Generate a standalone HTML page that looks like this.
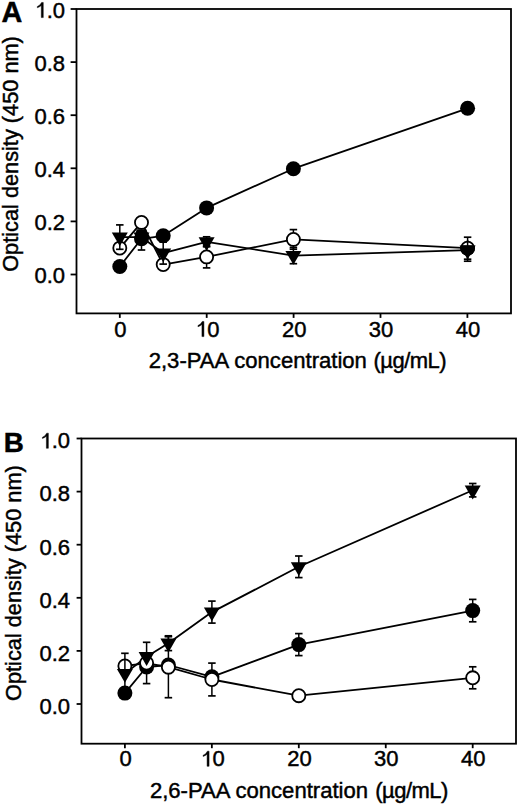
<!DOCTYPE html>
<html><head><meta charset="utf-8"><style>
html,body{margin:0;padding:0;background:#fff;width:520px;height:804px;overflow:hidden}
svg{display:block}
text{font-family:"Liberation Sans",sans-serif;font-size:22px;fill:#000;stroke:#000;stroke-width:0.45px}
</style></head><body>
<svg width="520" height="804" viewBox="0 0 520 804">
<rect width="520" height="804" fill="#fff"/>
<rect x="76.5" y="9" width="434.5" height="304.4" fill="none" stroke="#000" stroke-width="1.8"/><line x1="70.6" y1="274.5" x2="76.5" y2="274.5" stroke="#000" stroke-width="1.8"/><text x="65" y="283.1" text-anchor="end">0.0</text><line x1="70.6" y1="221.4" x2="76.5" y2="221.4" stroke="#000" stroke-width="1.8"/><text x="65" y="230" text-anchor="end">0.2</text><line x1="70.6" y1="168.3" x2="76.5" y2="168.3" stroke="#000" stroke-width="1.8"/><text x="65" y="176.9" text-anchor="end">0.4</text><line x1="70.6" y1="115.2" x2="76.5" y2="115.2" stroke="#000" stroke-width="1.8"/><text x="65" y="123.8" text-anchor="end">0.6</text><line x1="70.6" y1="62.1" x2="76.5" y2="62.1" stroke="#000" stroke-width="1.8"/><text x="65" y="70.7" text-anchor="end">0.8</text><line x1="70.6" y1="9" x2="76.5" y2="9" stroke="#000" stroke-width="1.8"/><text x="65" y="17.6" text-anchor="end">.0</text><path d="M825 0H640V1125Q510 1000 270 915V1030Q540 1130 670 1409H825Z" transform="translate(34.41,17.6) scale(0.010742,-0.010742)" fill="#000" stroke="#000" stroke-width="41.9"/><line x1="119.8" y1="313.4" x2="119.8" y2="317.9" stroke="#000" stroke-width="1.8"/><text x="120.4" y="336.6" text-anchor="middle">0</text><line x1="206.7" y1="313.4" x2="206.7" y2="317.9" stroke="#000" stroke-width="1.8"/><path d="M825 0H640V1125Q510 1000 270 915V1030Q540 1130 670 1409H825Z" transform="translate(195.06,336.6) scale(0.010742,-0.010742)" fill="#000" stroke="#000" stroke-width="41.9"/><text x="207.3" y="336.6">0</text><line x1="293.6" y1="313.4" x2="293.6" y2="317.9" stroke="#000" stroke-width="1.8"/><text x="294.2" y="336.6" text-anchor="middle">20</text><line x1="380.5" y1="313.4" x2="380.5" y2="317.9" stroke="#000" stroke-width="1.8"/><text x="381.1" y="336.6" text-anchor="middle">30</text><line x1="467.4" y1="313.4" x2="467.4" y2="317.9" stroke="#000" stroke-width="1.8"/><text x="468" y="336.6" text-anchor="middle">40</text><text x="148.7" y="368" style="font-size:22.1px">2,3-PAA concentration</text><text x="373.4" y="368" style="font-size:22px;letter-spacing:-0.5px">(&#181;g/mL)</text><text transform="translate(17.9,154) rotate(-90)" text-anchor="middle" style="font-size:21.75px">Optical density (450 nm)</text><text x="1.4" y="21.9" style="font-weight:bold;font-size:28.8px">A</text>
<polyline points="119.8,266.5 141.5,238.8 163.2,235.8 206.6,207.9 293.4,168.7 467.6,108.3" fill="none" stroke="#000" stroke-width="1.8" stroke-linejoin="round"/>
<polyline points="119.8,248.1 141.5,222.4 163.2,264.6 206.6,256.9 293.4,239.4 467.6,248.2" fill="none" stroke="#000" stroke-width="1.8" stroke-linejoin="round"/>
<polyline points="119.8,237.1 141.5,237.2 163.2,253.1 206.6,241.8 293.4,255.6 467.6,250.2" fill="none" stroke="#000" stroke-width="1.8" stroke-linejoin="round"/>
<circle cx="119.8" cy="266.5" r="7.5" fill="#000"/>
<circle cx="141.5" cy="238.8" r="7.5" fill="#000"/>
<circle cx="163.2" cy="235.8" r="7.5" fill="#000"/>
<circle cx="206.6" cy="207.9" r="7.5" fill="#000"/>
<circle cx="293.4" cy="168.7" r="7.5" fill="#000"/>
<circle cx="467.6" cy="108.3" r="7.5" fill="#000"/>
<line x1="206.6" y1="256.9" x2="206.6" y2="245.9" stroke="#000" stroke-width="1.5"/><line x1="202.85" y1="245.9" x2="210.35" y2="245.9" stroke="#000" stroke-width="1.7"/><line x1="206.6" y1="256.9" x2="206.6" y2="267.9" stroke="#000" stroke-width="1.5"/><line x1="202.85" y1="267.9" x2="210.35" y2="267.9" stroke="#000" stroke-width="1.7"/>
<line x1="293.4" y1="239.4" x2="293.4" y2="229.6" stroke="#000" stroke-width="1.5"/><line x1="289.65" y1="229.6" x2="297.15" y2="229.6" stroke="#000" stroke-width="1.7"/><line x1="293.4" y1="239.4" x2="293.4" y2="249.2" stroke="#000" stroke-width="1.5"/><line x1="289.65" y1="249.2" x2="297.15" y2="249.2" stroke="#000" stroke-width="1.7"/>
<line x1="467.6" y1="248.2" x2="467.6" y2="237.2" stroke="#000" stroke-width="1.5"/><line x1="463.85" y1="237.2" x2="471.35" y2="237.2" stroke="#000" stroke-width="1.7"/><line x1="467.6" y1="248.2" x2="467.6" y2="259.2" stroke="#000" stroke-width="1.5"/><line x1="463.85" y1="259.2" x2="471.35" y2="259.2" stroke="#000" stroke-width="1.7"/>
<circle cx="119.8" cy="248.1" r="6.55" fill="#fff" stroke="#000" stroke-width="1.8"/>
<circle cx="141.5" cy="222.4" r="6.55" fill="#fff" stroke="#000" stroke-width="1.8"/>
<circle cx="163.2" cy="264.6" r="6.55" fill="#fff" stroke="#000" stroke-width="1.8"/>
<circle cx="206.6" cy="256.9" r="6.55" fill="#fff" stroke="#000" stroke-width="1.8"/>
<circle cx="293.4" cy="239.4" r="6.55" fill="#fff" stroke="#000" stroke-width="1.8"/>
<circle cx="467.6" cy="248.2" r="6.55" fill="#fff" stroke="#000" stroke-width="1.8"/>
<clipPath id="cA40"><rect x="455" y="245.2" width="30" height="20"/></clipPath>
<circle cx="467.6" cy="248.4" r="7.3" fill="#000" clip-path="url(#cA40)"/>
<line x1="119.8" y1="237.1" x2="119.8" y2="224.9" stroke="#000" stroke-width="1.5"/><line x1="116.05" y1="224.9" x2="123.55" y2="224.9" stroke="#000" stroke-width="1.7"/><line x1="119.8" y1="237.1" x2="119.8" y2="249.3" stroke="#000" stroke-width="1.5"/><line x1="116.05" y1="249.3" x2="123.55" y2="249.3" stroke="#000" stroke-width="1.7"/>
<line x1="141.5" y1="237.2" x2="141.5" y2="250" stroke="#000" stroke-width="1.5"/><line x1="137.75" y1="250" x2="145.25" y2="250" stroke="#000" stroke-width="1.7"/>
<line x1="141.5" y1="237.2" x2="141.5" y2="229.5" stroke="#000" stroke-width="1.5"/>
<path d="M136.7 229.3H146.3L147.5 233.5H135.5Z" fill="#000"/>
<line x1="163.2" y1="253.1" x2="163.2" y2="242.1" stroke="#000" stroke-width="1.5"/><line x1="159.45" y1="242.1" x2="166.95" y2="242.1" stroke="#000" stroke-width="1.7"/><line x1="163.2" y1="253.1" x2="163.2" y2="264.1" stroke="#000" stroke-width="1.5"/><line x1="159.45" y1="264.1" x2="166.95" y2="264.1" stroke="#000" stroke-width="1.7"/>
<line x1="206.6" y1="241.8" x2="206.6" y2="236.8" stroke="#000" stroke-width="1.5"/><line x1="202.85" y1="236.8" x2="210.35" y2="236.8" stroke="#000" stroke-width="1.7"/><line x1="206.6" y1="241.8" x2="206.6" y2="246.8" stroke="#000" stroke-width="1.5"/><line x1="202.85" y1="246.8" x2="210.35" y2="246.8" stroke="#000" stroke-width="1.7"/>
<line x1="293.4" y1="255.6" x2="293.4" y2="247.5" stroke="#000" stroke-width="1.5"/><line x1="289.65" y1="247.5" x2="297.15" y2="247.5" stroke="#000" stroke-width="1.7"/><line x1="293.4" y1="255.6" x2="293.4" y2="263.7" stroke="#000" stroke-width="1.5"/><line x1="289.65" y1="263.7" x2="297.15" y2="263.7" stroke="#000" stroke-width="1.7"/>
<line x1="467.6" y1="250.2" x2="467.6" y2="261.2" stroke="#000" stroke-width="1.5"/><line x1="463.85" y1="261.2" x2="471.35" y2="261.2" stroke="#000" stroke-width="1.7"/>
<line x1="467.6" y1="250.2" x2="467.6" y2="240" stroke="#000" stroke-width="1.5"/>
<polygon points="111.8,232.5 127.8,232.5 119.8,246.3" fill="#000"/>
<polygon points="133.5,232.6 149.5,232.6 141.5,246.4" fill="#000"/>
<polygon points="155.2,248.5 171.2,248.5 163.2,262.3" fill="#000"/>
<polygon points="198.6,237.2 214.6,237.2 206.6,251" fill="#000"/>
<polygon points="285.4,251 301.4,251 293.4,264.8" fill="#000"/>
<polygon points="459.6,245.6 475.6,245.6 467.6,259.4" fill="#000"/>
<rect x="81.5" y="438.5" width="434.5" height="305.2" fill="none" stroke="#000" stroke-width="1.8"/><line x1="76.6" y1="704" x2="81.5" y2="704" stroke="#000" stroke-width="1.8"/><text x="70.1" y="713.8" text-anchor="end">0.0</text><line x1="76.6" y1="650.9" x2="81.5" y2="650.9" stroke="#000" stroke-width="1.8"/><text x="70.1" y="660.7" text-anchor="end">0.2</text><line x1="76.6" y1="597.8" x2="81.5" y2="597.8" stroke="#000" stroke-width="1.8"/><text x="70.1" y="607.6" text-anchor="end">0.4</text><line x1="76.6" y1="544.7" x2="81.5" y2="544.7" stroke="#000" stroke-width="1.8"/><text x="70.1" y="554.5" text-anchor="end">0.6</text><line x1="76.6" y1="491.6" x2="81.5" y2="491.6" stroke="#000" stroke-width="1.8"/><text x="70.1" y="501.4" text-anchor="end">0.8</text><line x1="76.6" y1="438.5" x2="81.5" y2="438.5" stroke="#000" stroke-width="1.8"/><text x="70.1" y="448.3" text-anchor="end">.0</text><path d="M825 0H640V1125Q510 1000 270 915V1030Q540 1130 670 1409H825Z" transform="translate(39.51,448.3) scale(0.010742,-0.010742)" fill="#000" stroke="#000" stroke-width="41.9"/><line x1="124.9" y1="743.7" x2="124.9" y2="748.2" stroke="#000" stroke-width="1.8"/><text x="125.5" y="766.3" text-anchor="middle">0</text><line x1="211.85" y1="743.7" x2="211.85" y2="748.2" stroke="#000" stroke-width="1.8"/><path d="M825 0H640V1125Q510 1000 270 915V1030Q540 1130 670 1409H825Z" transform="translate(200.21,766.3) scale(0.010742,-0.010742)" fill="#000" stroke="#000" stroke-width="41.9"/><text x="212.45" y="766.3">0</text><line x1="298.8" y1="743.7" x2="298.8" y2="748.2" stroke="#000" stroke-width="1.8"/><text x="299.4" y="766.3" text-anchor="middle">20</text><line x1="385.75" y1="743.7" x2="385.75" y2="748.2" stroke="#000" stroke-width="1.8"/><text x="386.35" y="766.3" text-anchor="middle">30</text><line x1="472.7" y1="743.7" x2="472.7" y2="748.2" stroke="#000" stroke-width="1.8"/><text x="473.3" y="766.3" text-anchor="middle">40</text><text x="149.9" y="798" style="font-size:22.1px">2,6-PAA concentration</text><text x="375.3" y="798" style="font-size:22px;letter-spacing:-0.55px">(&#181;g/mL)</text><text transform="translate(20.7,583.1) rotate(-90)" text-anchor="middle" style="font-size:21.75px">Optical density (450 nm)</text><text x="3.8" y="451.7" style="font-weight:bold;font-size:27.8px">B</text>
<polyline points="124.9,693.1 146.6,667 168.4,665 211.9,676.8 298.8,644.6 472.7,610.6" fill="none" stroke="#000" stroke-width="1.8" stroke-linejoin="round"/>
<polyline points="124.9,666 146.6,663.1 168.4,667.2 211.9,679.5 298.8,695.7 472.7,677.8" fill="none" stroke="#000" stroke-width="1.8" stroke-linejoin="round"/>
<polyline points="124.9,673.6 146.6,656.7 168.4,643.2 211.9,612.1 298.8,566.8 472.7,490.2" fill="none" stroke="#000" stroke-width="1.8" stroke-linejoin="round"/>
<line x1="146.6" y1="667" x2="146.6" y2="683.6" stroke="#000" stroke-width="1.5"/><line x1="142.85" y1="683.6" x2="150.35" y2="683.6" stroke="#000" stroke-width="1.7"/>
<line x1="298.8" y1="644.6" x2="298.8" y2="633.6" stroke="#000" stroke-width="1.5"/><line x1="295.05" y1="633.6" x2="302.55" y2="633.6" stroke="#000" stroke-width="1.7"/><line x1="298.8" y1="644.6" x2="298.8" y2="655.6" stroke="#000" stroke-width="1.5"/><line x1="295.05" y1="655.6" x2="302.55" y2="655.6" stroke="#000" stroke-width="1.7"/>
<line x1="472.7" y1="610.6" x2="472.7" y2="599.4" stroke="#000" stroke-width="1.5"/><line x1="468.95" y1="599.4" x2="476.45" y2="599.4" stroke="#000" stroke-width="1.7"/><line x1="472.7" y1="610.6" x2="472.7" y2="621.8" stroke="#000" stroke-width="1.5"/><line x1="468.95" y1="621.8" x2="476.45" y2="621.8" stroke="#000" stroke-width="1.7"/>
<circle cx="124.9" cy="693.1" r="7.5" fill="#000"/>
<circle cx="146.6" cy="667" r="7.5" fill="#000"/>
<circle cx="168.4" cy="665" r="7.5" fill="#000"/>
<circle cx="211.9" cy="676.8" r="7.5" fill="#000"/>
<circle cx="298.8" cy="644.6" r="7.5" fill="#000"/>
<circle cx="472.7" cy="610.6" r="7.5" fill="#000"/>
<line x1="168.4" y1="667.2" x2="168.4" y2="636.7" stroke="#000" stroke-width="1.5"/><line x1="164.65" y1="636.7" x2="172.15" y2="636.7" stroke="#000" stroke-width="1.7"/><line x1="168.4" y1="667.2" x2="168.4" y2="697.7" stroke="#000" stroke-width="1.5"/><line x1="164.65" y1="697.7" x2="172.15" y2="697.7" stroke="#000" stroke-width="1.7"/>
<line x1="211.9" y1="679.5" x2="211.9" y2="663.1" stroke="#000" stroke-width="1.5"/><line x1="208.15" y1="663.1" x2="215.65" y2="663.1" stroke="#000" stroke-width="1.7"/><line x1="211.9" y1="679.5" x2="211.9" y2="695.9" stroke="#000" stroke-width="1.5"/><line x1="208.15" y1="695.9" x2="215.65" y2="695.9" stroke="#000" stroke-width="1.7"/>
<line x1="472.7" y1="677.8" x2="472.7" y2="666.8" stroke="#000" stroke-width="1.5"/><line x1="468.95" y1="666.8" x2="476.45" y2="666.8" stroke="#000" stroke-width="1.7"/><line x1="472.7" y1="677.8" x2="472.7" y2="688.8" stroke="#000" stroke-width="1.5"/><line x1="468.95" y1="688.8" x2="476.45" y2="688.8" stroke="#000" stroke-width="1.7"/>
<circle cx="124.9" cy="666" r="6.55" fill="#fff" stroke="#000" stroke-width="1.8"/>
<circle cx="146.6" cy="663.1" r="6.55" fill="#fff" stroke="#000" stroke-width="1.8"/>
<circle cx="168.4" cy="667.2" r="6.55" fill="#fff" stroke="#000" stroke-width="1.8"/>
<circle cx="211.9" cy="679.5" r="6.55" fill="#fff" stroke="#000" stroke-width="1.8"/>
<circle cx="298.8" cy="695.7" r="6.55" fill="#fff" stroke="#000" stroke-width="1.8"/>
<circle cx="472.7" cy="677.8" r="6.55" fill="#fff" stroke="#000" stroke-width="1.8"/>
<line x1="124.9" y1="673.6" x2="124.9" y2="653.3" stroke="#000" stroke-width="1.5"/><line x1="121.15" y1="653.3" x2="128.65" y2="653.3" stroke="#000" stroke-width="1.7"/><line x1="124.9" y1="673.6" x2="124.9" y2="693.9" stroke="#000" stroke-width="1.5"/><line x1="121.15" y1="693.9" x2="128.65" y2="693.9" stroke="#000" stroke-width="1.7"/>
<line x1="146.6" y1="656.7" x2="146.6" y2="642.3" stroke="#000" stroke-width="1.5"/><line x1="142.85" y1="642.3" x2="150.35" y2="642.3" stroke="#000" stroke-width="1.7"/>
<line x1="168.4" y1="643.2" x2="168.4" y2="635.8" stroke="#000" stroke-width="1.5"/><line x1="164.65" y1="635.8" x2="172.15" y2="635.8" stroke="#000" stroke-width="1.7"/><line x1="168.4" y1="643.2" x2="168.4" y2="650.6" stroke="#000" stroke-width="1.5"/><line x1="164.65" y1="650.6" x2="172.15" y2="650.6" stroke="#000" stroke-width="1.7"/>
<line x1="211.9" y1="612.1" x2="211.9" y2="601.1" stroke="#000" stroke-width="1.5"/><line x1="208.15" y1="601.1" x2="215.65" y2="601.1" stroke="#000" stroke-width="1.7"/><line x1="211.9" y1="612.1" x2="211.9" y2="623.1" stroke="#000" stroke-width="1.5"/><line x1="208.15" y1="623.1" x2="215.65" y2="623.1" stroke="#000" stroke-width="1.7"/>
<line x1="298.8" y1="566.8" x2="298.8" y2="556" stroke="#000" stroke-width="1.5"/><line x1="295.05" y1="556" x2="302.55" y2="556" stroke="#000" stroke-width="1.7"/><line x1="298.8" y1="566.8" x2="298.8" y2="577.6" stroke="#000" stroke-width="1.5"/><line x1="295.05" y1="577.6" x2="302.55" y2="577.6" stroke="#000" stroke-width="1.7"/>
<line x1="472.7" y1="490.2" x2="472.7" y2="483.5" stroke="#000" stroke-width="1.5"/><line x1="468.95" y1="483.5" x2="476.45" y2="483.5" stroke="#000" stroke-width="1.7"/><line x1="472.7" y1="490.2" x2="472.7" y2="496.9" stroke="#000" stroke-width="1.5"/><line x1="468.95" y1="496.9" x2="476.45" y2="496.9" stroke="#000" stroke-width="1.7"/>
<polygon points="116.9,669 132.9,669 124.9,682.8" fill="#000"/>
<polygon points="138.6,652.1 154.6,652.1 146.6,665.9" fill="#000"/>
<polygon points="160.4,638.6 176.4,638.6 168.4,652.4" fill="#000"/>
<polygon points="203.9,607.5 219.9,607.5 211.9,621.3" fill="#000"/>
<polygon points="290.8,562.2 306.8,562.2 298.8,576" fill="#000"/>
<polygon points="464.7,485.6 480.7,485.6 472.7,499.4" fill="#000"/>
</svg>
</body></html>
